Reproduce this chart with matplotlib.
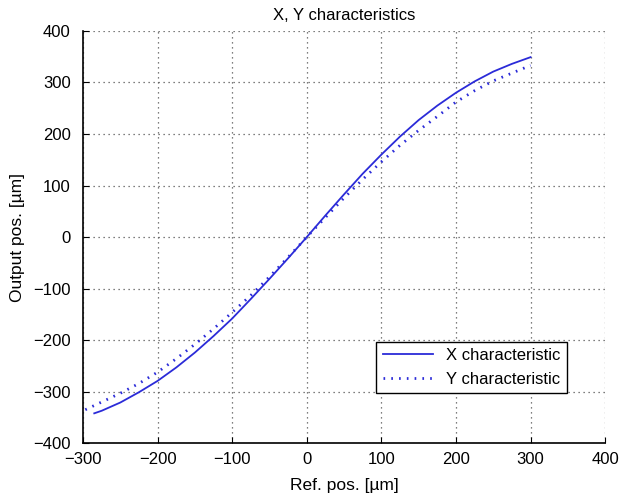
import matplotlib.pyplot as plt

plt.rcParams["font.family"] = ["Liberation Sans", "DejaVu Sans"]

# reference position [um] vs output position [um]
x_ref = [-285, -275, -250, -225, -200, -175, -150, -125, -100, -75, -50, -25, 0,
         25, 50, 75, 100, 125, 150, 175, 200, 225, 250, 275, 300]
x_out = [-342, -337, -321, -301, -279, -253, -224, -192, -158, -120, -81, -41, 0,
         42, 83, 123, 160, 195, 227, 255, 280, 302, 321, 336, 349]

y_ref = [-297, -275, -250, -225, -200, -175, -150, -125, -100, -75, -50, -25, 0,
         25, 50, 75, 100, 125, 150, 175, 200, 225, 250, 275, 300]
y_out = [-335, -320, -303, -284, -262, -236, -208, -178, -146, -113, -77, -39, 0,
         38, 76, 112, 146, 178, 207, 234, 262, 284, 303, 318, 333]

xticks = [-300, -200, -100, 0, 100, 200, 300, 400]
yticks = [-400, -300, -200, -100, 0, 100, 200, 300, 400]


def plot_characteristics():
    fig = plt.figure(figsize=(6.39, 4.98), dpi=100)
    ax = fig.add_axes([0.130, 0.110, 0.817, 0.828])

    blue = "#2b2bd8"
    ax.plot(x_ref, x_out, color=blue, lw=1.3, label="X characteristic")
    ax.plot(y_ref, y_out, color=blue, lw=2.0, linestyle=(0, (0.6, 2.2)),
            label="Y characteristic")

    ax.set_xlim(-300, 400)
    ax.set_ylim(-400, 400)
    ax.set_xticks(xticks)
    ax.set_yticks(yticks)
    ax.tick_params(direction="in", labelsize=12, length=4, color="black")
    ax.tick_params(axis="y", pad=9)
    ax.tick_params(axis="x", pad=6)
    ax.grid(True, linestyle=(0, (1, 3)), color="#555555", lw=0.9)

    for side in ("top", "right"):
        ax.spines[side].set_visible(False)
    for side in ("left", "bottom"):
        ax.spines[side].set_linewidth(1.2)

    ax.set_title("X, Y characteristics", fontsize=12, pad=8)
    ax.set_xlabel("Ref. pos. [\u00b5m]", fontsize=12.5, labelpad=8)
    ax.set_ylabel("Output pos. [\u00b5m]", fontsize=12.5, labelpad=6)

    leg = ax.legend(loc="lower right", bbox_to_anchor=(0.927, 0.121),
                    borderaxespad=0, fontsize=12, fancybox=False,
                    framealpha=1, edgecolor="black", borderpad=0.4,
                    handlelength=3.0, labelspacing=0.5)
    leg.get_frame().set_linewidth(1.0)

    fig.savefig("out.png", dpi=100)


if __name__ == "__main__":
    plot_characteristics()
